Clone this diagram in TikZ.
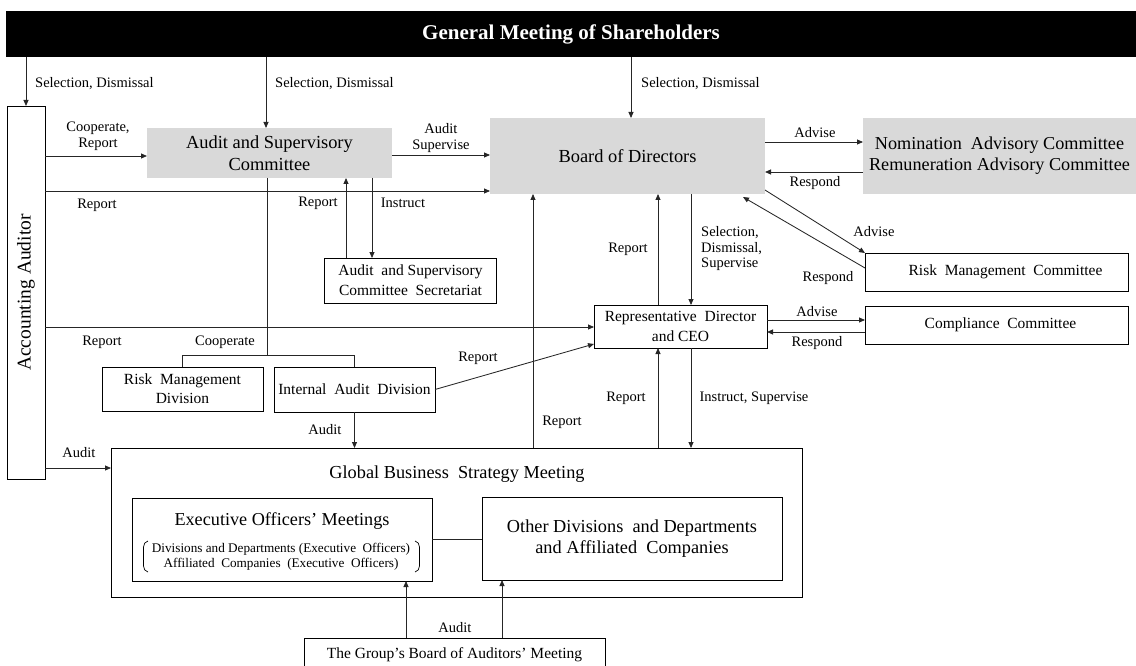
\documentclass[tikz,border=0pt]{standalone}
\usepackage{fontspec}
\setmainfont{Liberation Serif}
\usetikzlibrary{arrows.meta}
\begin{document}
\begin{tikzpicture}[x=1pt,y=-1pt,
  ln/.style={line width=0.85pt, draw=black!85},
  arr/.style={ln, -{Triangle[length=6pt,width=5pt]}},
  lbl/.style={font=\fontsize{14.5}{15.5}\selectfont, inner sep=0pt, align=center},
  gbox/.style={fill=gray!30, inner sep=0pt, outer sep=0pt, align=center, font=\fontsize{18.4}{22}\selectfont},
  wbox/.style={draw=black, line width=0.85pt, fill=white, inner sep=0pt, outer sep=0pt, align=center, font=\fontsize{15.5}{20}\selectfont},
  bbox/.style={draw=black, line width=0.85pt, fill=white, inner sep=0pt, outer sep=0pt, align=center, font=\fontsize{18.3}{21}\selectfont}
]
\useasboundingbox (0,0) rectangle (1136,666);

% boxes
\node[fill=black, text=white, inner sep=0pt, minimum width=1130pt, minimum height=46pt, font=\fontsize{21}{24}\selectfont\bfseries] (gm) at (571,34) {General Meeting of Shareholders};
\node[wbox, minimum width=38pt, minimum height=373pt] (acc) at (26,292.5) {};
\node[rotate=90, inner sep=0pt, font=\fontsize{19.5}{21}\selectfont] (acct) at (acc.center) {Accounting Auditor};
\node[gbox, minimum width=245pt, minimum height=50pt] (asc) at (269.5,153) {Audit and Supervisory\\Committee};
\node[gbox, minimum width=275pt, minimum height=76pt] (bod) at (627.5,156) {Board of Directors};
\node[gbox, minimum width=273pt, minimum height=76pt, font=\fontsize{18.2}{21}\selectfont] (nom) at (999.5,156) {Nomination\ \ Advisory Committee\\Remuneration Advisory Committee};
\node[wbox, minimum width=172pt, minimum height=45pt] (sec) at (410.5,280.5) {Audit\ \ and Supervisory\\Committee\ \ Secretariat};
\node[wbox, minimum width=263pt, minimum height=38pt] (rmc) at (996.5,272) {\hspace*{18pt}Risk\ \ Management\ \ Committee};
\node[wbox, minimum width=263pt, minimum height=38pt] (cc) at (996.5,325) {\hspace*{8pt}Compliance\ \ Committee};
\node[wbox, minimum width=173pt, minimum height=43pt] (ceo) at (680.5,326.5) {Representative\ \ Director\\and CEO};
\node[wbox, minimum width=161pt, minimum height=44pt, font=\fontsize{15.5}{19}\selectfont] (rmd) at (182.5,389) {Risk\ \ Management\\Division};
\node[wbox, minimum width=161pt, minimum height=45pt] (iad) at (354.5,389.5) {Internal\ \ Audit\ \ Division};
\node[wbox, minimum width=691pt, minimum height=149pt] (gbsm) at (456.5,522.5) {};
\node[inner sep=0pt, font=\fontsize{18.3}{21}\selectfont] (gbsmt) at (457,474) {Global Business\ \ Strategy Meeting};
\node[bbox, minimum width=300pt, minimum height=83pt] (eom) at (282,539.5) {};
\node[inner sep=0pt, font=\fontsize{18.2}{21}\selectfont] (eomt) at (282,521) {Executive Officers’ Meetings};
\node[inner sep=0pt, align=center, font=\fontsize{13.2}{14.5}\selectfont] (eoms) at (281,557) {Divisions and Departments (Executive\ \ Officers)\\Affiliated\ \ Companies\ \ (Executive\ \ Officers)};
\node[bbox, minimum width=300pt, minimum height=83pt] (oth) at (632,538.5) {Other Divisions\ \ and Departments\\and Affiliated\ \ Companies};
\node[wbox, minimum width=301pt, minimum height=34pt] (gba) at (454.5,655) {The Group’s Board of Auditors’ Meeting};

% parentheses
\draw[line width=0.7pt] (148,541) to[out=195,in=90] (143.5,547) -- (143.5,566) to[out=-90,in=165] (148,572);
\draw[line width=0.7pt] (415,541) to[out=-15,in=90] (419.5,547) -- (419.5,566) to[out=-90,in=15] (415,572);

% coordinates
\coordinate (x266) at (266,0);
\coordinate (x631) at (631,0);
\coordinate (y156) at (0,156);
\coordinate (y155) at (0,155);
\coordinate (y191) at (0,191);
\coordinate (x346) at (346,0);
\coordinate (x372) at (372,0);
\coordinate (brk) at (267,355);
\coordinate (y327) at (0,327);
\coordinate (y468) at (0,468);
\coordinate (x533) at (533,0);
\coordinate (x658) at (658,0);
\coordinate (x691) at (691,0);
\coordinate (y142) at (0,142);
\coordinate (y172) at (0,172);
\coordinate (y320) at (0,320);
\coordinate (y332) at (0,332);
\coordinate (x406) at (406,0);
\coordinate (x502) at (502,0);
\coordinate (y539) at (0,539);

% connectors
\draw[arr] (gm.south -| acc.north) -- (acc.north);
\draw[arr] (gm.south -| x266) -- (asc.north -| x266);
\draw[arr] (gm.south -| x631) -- (bod.north -| x631);
\draw[arr] (acc.east |- y156) -- (asc.west |- y156);
\draw[arr] (asc.east |- y155) -- (bod.west |- y155);
\draw[arr] (acc.east |- y191) -- (bod.west |- y191);
\draw[arr] (sec.north -| x346) -- (asc.south -| x346);
\draw[arr] (asc.south -| x372) -- (sec.north -| x372);
\draw[ln] (asc.south -| brk) -- (brk);
\draw[ln] (rmd.north) -- (rmd.north |- brk) -- (iad.north |- brk) -- (iad.north);
\draw[arr] (acc.east |- y327) -- (ceo.west |- y327);
\draw[arr] (iad.east) -- ([yshift=4pt]ceo.south west);
\draw[arr] (iad.south) -- (gbsm.north -| iad.south);
\draw[arr] (acc.east |- y468) -- (gbsm.west |- y468);
\draw[arr] (gbsm.north -| x533) -- (bod.south -| x533);
\draw[arr] (ceo.north -| x658) -- (bod.south -| x658);
\draw[arr] (bod.south -| x691) -- (ceo.north -| x691);
\draw[arr] (gbsm.north -| x658) -- (ceo.south -| x658);
\draw[arr] (ceo.south -| x691) -- (gbsm.north -| x691);
\draw[arr] (bod.east |- y142) -- (nom.west |- y142);
\draw[arr] (nom.west |- y172) -- (bod.east |- y172);
\draw[arr] ([yshift=4pt]bod.south east) -- (rmc.north west);
\draw[arr] ([yshift=-15pt]rmc.north west) -- ([xshift=-22pt,yshift=-3pt]bod.south east);
\draw[arr] (ceo.east |- y320) -- (cc.west |- y320);
\draw[arr] (cc.west |- y332) -- (ceo.east |- y332);
\draw[ln] (eom.east |- y539) -- (oth.west |- y539);
\draw[arr] (gba.north -| x406) -- (eom.south -| x406);
\draw[arr] (gba.north -| x502) -- (oth.south -| x502);

% labels
\node[lbl, anchor=west] (l1) at (35,84) {Selection, Dismissal};
\node[lbl, anchor=west] (l2) at (275,84) {Selection, Dismissal};
\node[lbl, anchor=west] (l3) at (641,84) {Selection, Dismissal};
\node[lbl] (l4) at (98,136) {Cooperate,\\Report};
\node[lbl] (l5) at (97,205) {Report};
\node[lbl] (l6) at (441,138) {Audit\\Supervise};
\node[lbl] (l7) at (318,203) {Report};
\node[lbl] (l8) at (403,203) {Instruct};
\node[lbl] (l9) at (102,342) {Report};
\node[lbl] (l10) at (225,342) {Cooperate};
\node[lbl] (l11) at (478,358) {Report};
\node[lbl] (l12) at (325,430) {Audit};
\node[lbl] (l13) at (79,453) {Audit};
\node[lbl] (l14) at (562,422) {Report};
\node[lbl] (l15) at (626,398) {Report};
\node[lbl] (l16) at (754,398) {Instruct, Supervise};
\node[lbl] (l17) at (628,249) {Report};
\node[lbl, anchor=west, align=left] (l18) at (701,249) {Selection,\\Dismissal,\\Supervise};
\node[lbl] (l19) at (815,133) {Advise};
\node[lbl] (l20) at (815,183) {Respond};
\node[lbl] (l21) at (874,232) {Advise};
\node[lbl] (l22) at (828,278) {Respond};
\node[lbl] (l23) at (817,312) {Advise};
\node[lbl] (l24) at (817,343) {Respond};
\node[lbl] (l25) at (455,628) {Audit};
\end{tikzpicture}
\end{document}
